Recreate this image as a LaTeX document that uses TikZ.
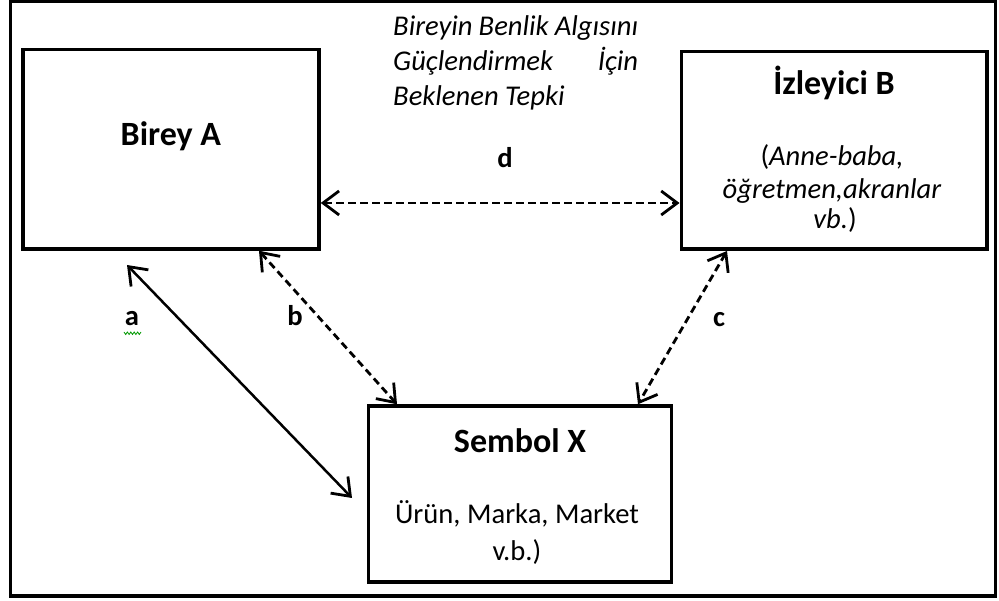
\documentclass[tikz,border=0pt]{standalone}
\usepackage{fontspec}
\setmainfont{Carlito}
\usetikzlibrary{arrows.meta}
\begin{document}
\begin{tikzpicture}[x=1pt,y=-1pt,
  box/.style={draw,line width=3.5pt,inner sep=0pt},
  title/.style={font=\fontsize{34}{40}\selectfont\bfseries,anchor=base,inner sep=0pt},
  body/.style={font=\fontsize{28.6}{34}\selectfont,anchor=base,inner sep=0pt},
  note/.style={font=\fontsize{28.6}{34}\selectfont\itshape,anchor=base west,inner sep=0pt},
  lbl/.style={font=\fontsize{28.6}{34}\selectfont\bfseries,anchor=base,inner sep=0pt},
  tip/.tip={Straight Barb[length=16pt,width=24pt,line width=2.8pt]},
  link/.style={line width=2.5pt,tip-tip},
  dlink/.style={link,line width=2.8pt,dash pattern=on 7.5pt off 4.5pt}
]
\useasboundingbox (0,0) rectangle (999,601);
\fill[white] (0,0) rectangle (999,601);
% outer frame
\draw[line width=3.5pt] (10.5,1.3) rectangle (995.3,596);

% the three boxes
\node[box,minimum width=296.2pt,minimum height=199.3pt] (A) at (170.9,149.35) {};
\node[box,minimum width=305.7pt,minimum height=197.5pt] (B) at (834.15,150.45) {};
\node[box,minimum width=303.2pt,minimum height=176pt] (X) at (520.1,494) {};

% box texts
\node[title] (Atitle) at (170.9,146) {Birey A};
\node[title] (Btitle) at (834,95) {İzleyici B};
\node[body] (Bl1) at (832,166) {(\textit{Anne-baba,}};
\node[body] (Bl2) at (832,199) {\textit{öğretmen,akranlar}};
\node[body] (Bl3) at (835,229) {\textit{vb.})};
\node[title] (Xtitle) at (520,453) {Sembol X};
\node[body] (Xl1) at (517,523) {Ürün, Marka, Market};
\node[body] (Xl2) at (517,560) {v.b.)};

% expected response note
\node[note] (n1) at (393,36) {\hbox to 245pt{Bireyin\hfill Benlik\hfill Algısını}};
\node[note] (n2) at (393,71) {\hbox to 245pt{Güçlendirmek\hfill İçin}};
\node[note] (n3) at (393,106) {Beklenen Tepki};

% connectors
\coordinate (dy) at (0,203);
\coordinate (a1) at (127,265);
\coordinate (a2) at (352,498);
\coordinate (b1) at (259,0);
\coordinate (b2) at (397,0);
\coordinate (c1) at (727,0);
\coordinate (c2) at (638,0);
\draw[dlink] (A.east |- dy) -- (B.west |- dy);
\draw[link] (a1) -- (a2);
\draw[dlink] (b1 |- A.south) -- (b2 |- X.north);
\draw[dlink] (c1 |- B.south) -- (c2 |- X.north);

% connector labels
\node[lbl] (la) at (132,326) {a};
\node[lbl] (lb) at (295,326) {b};
\node[lbl] (lc) at (719,327) {c};
\node[lbl] (ld) at (505,168) {d};
\draw[green!60!black,line width=0.8pt] (124,332) -- (125.7,334.5) -- (127.4,332) -- (129.1,334.5) -- (130.8,332)
  -- (132.5,334.5) -- (134.2,332) -- (135.9,334.5) -- (137.6,332) -- (139.3,334.5) -- (141,332);
\end{tikzpicture}
\end{document}
